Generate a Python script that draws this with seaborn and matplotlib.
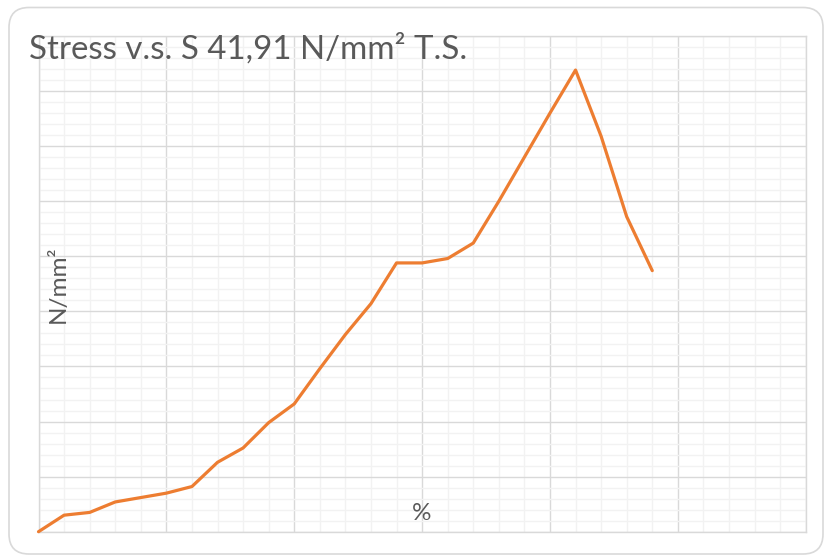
import matplotlib
matplotlib.use("Agg")
import matplotlib.pyplot as plt
from matplotlib.ticker import MultipleLocator, NullFormatter
from matplotlib.patches import FancyBboxPatch
from matplotlib.transforms import IdentityTransform
import seaborn as sns
import pandas as pd

# ---- data ----
strain_pct = [0, 1, 2, 3, 4, 5, 6, 7, 8, 9, 10, 11, 12, 13, 14, 15, 16,
              17, 18, 19, 20, 21, 22, 23, 24]
stress = [0.0, 1.5, 1.75, 2.7, 3.1, 3.5, 4.1, 6.3, 7.6, 9.9, 11.6, 14.8,
          17.9, 20.7, 24.4, 24.4, 24.8, 26.2, 30.0, 34.0, 38.0, 41.91,
          35.9, 28.6, 23.7]
title_text = "Stress v.s. S 41,91 N/mm\u00b2 T.S."
y_label = "N/mm\u00b2"
x_label = "%"

df = pd.DataFrame({"strain": strain_pct, "stress": stress})

sns.set_style("white")
plt.rcParams["font.family"] = ["Lato", "DejaVu Sans"]

W, H = 826, 556
fig = plt.figure(figsize=(W / 100, H / 100), dpi=100)
fig.patch.set_facecolor("white")

# rounded chart border
border = FancyBboxPatch((9, 2), 814, 546.5,
                        boxstyle="round,pad=0,rounding_size=20",
                        transform=IdentityTransform(), facecolor="none",
                        edgecolor="#d9d9d9", linewidth=1.2)
fig.patches.append(border)

left, right, top, bottom = 38.5, 805.7, 36.0, 531.7
ax = fig.add_axes([left / W, 1 - bottom / H, (right - left) / W, (bottom - top) / H])
ax.set_facecolor("white")

sns.lineplot(data=df, x="strain", y="stress", ax=ax, color="#ED7D31",
             linewidth=2.3, solid_joinstyle="round", solid_capstyle="round",
             zorder=5, clip_on=False)

ax.set_xlim(0, 30)
ax.set_ylim(0, 45)
ax.xaxis.set_major_locator(MultipleLocator(5))
ax.xaxis.set_minor_locator(MultipleLocator(1))
ax.yaxis.set_major_locator(MultipleLocator(5))
ax.yaxis.set_minor_locator(MultipleLocator(1))
ax.xaxis.set_major_formatter(NullFormatter())
ax.yaxis.set_major_formatter(NullFormatter())
ax.tick_params(which="both", length=0)
ax.grid(which="minor", color="#f2f2f2", linewidth=1.0, zorder=0)
ax.grid(which="major", color="#d9d9d9", linewidth=1.0, zorder=1)
ax.set_axisbelow(True)
for s in ax.spines.values():
    s.set_color("#d9d9d9")
    s.set_linewidth(1.0)
ax.set_xlabel("")
ax.set_ylabel("")

# title, auto-fitted to the reference width
t = fig.text(29 / W, 1 - 59 / H, title_text, ha="left", va="baseline",
             color="#595959", fontsize=24)
renderer = fig.canvas.get_renderer()
w = t.get_window_extent(renderer).width
t.set_fontsize(24 * 438 / w)

fig.text(58 / W, 1 - 284 / H, y_label, rotation=90, ha="center", va="center",
         color="#595959", fontsize=17.5)
fig.text(422 / W, 1 - 513 / H, x_label, ha="center", va="center",
         color="#595959", fontsize=17.5)

fig.savefig("out.png", dpi=100, facecolor="white")
